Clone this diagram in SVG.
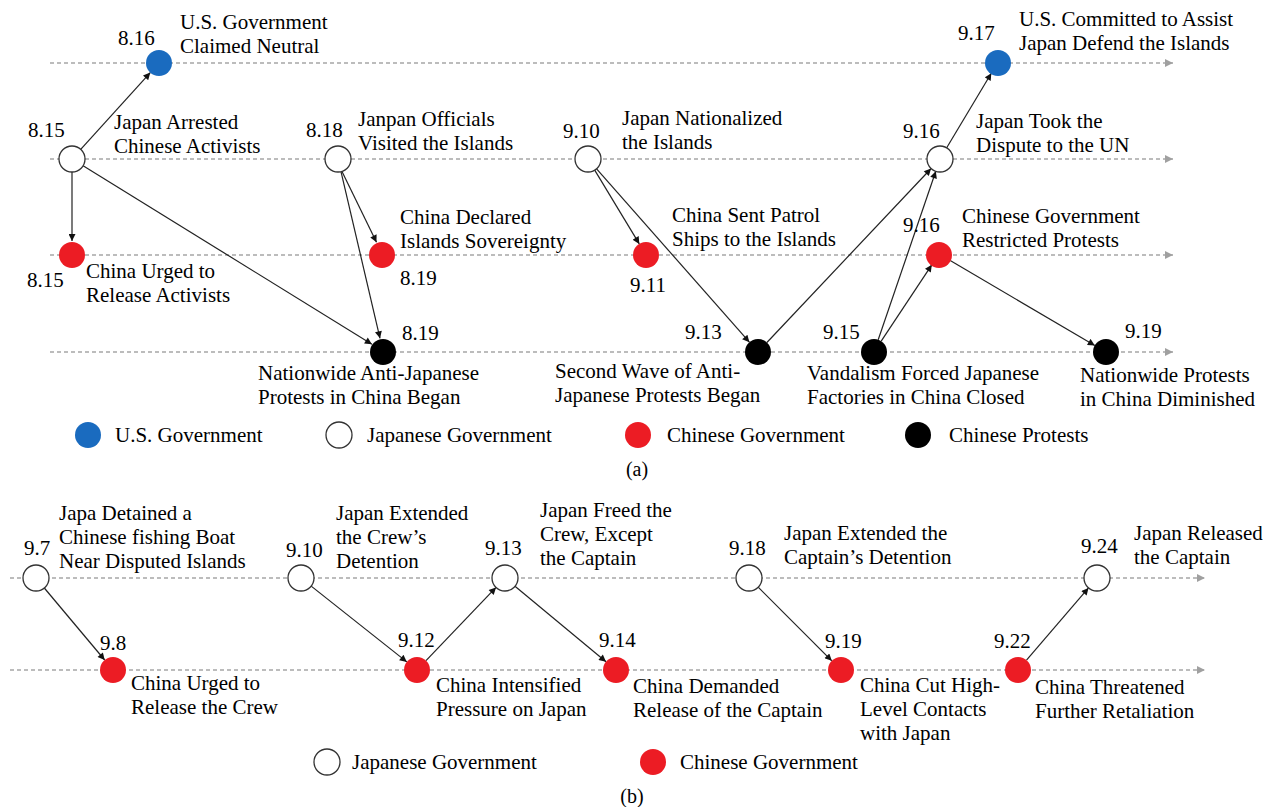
<svg xmlns="http://www.w3.org/2000/svg" width="1276" height="807" viewBox="0 0 1276 807">
<style>
text{font-family:"Liberation Serif","Times New Roman",serif;font-size:21px;fill:#000}
.cap{font-size:20px}
.tl{stroke:#a6a6a6;stroke-width:1.3;stroke-dasharray:4 3;fill:none}
.cn{stroke:#222;stroke-width:1.2;fill:none}
.us{fill:#1a6bbf}
.jp{fill:#fff;stroke:#333;stroke-width:1.3}
.cg{fill:#ec1c24}
.cp{fill:#000}
</style>
<defs>
<marker id="ah" viewBox="0 0 10 10" refX="10" refY="5" markerWidth="9" markerHeight="7" markerUnits="userSpaceOnUse" orient="auto"><path d="M0,0 L10,5 L0,10 z" fill="#111"/></marker>
<marker id="ag" viewBox="0 0 10 10" refX="10" refY="5" markerWidth="9" markerHeight="8" markerUnits="userSpaceOnUse" orient="auto"><path d="M0,0 L10,5 L0,10 z" fill="#a0a0a0"/></marker>
</defs>

<g id="timelines">
<line class="tl" x1="50" y1="63" x2="1173" y2="63" marker-end="url(#ag)"/>
<line class="tl" x1="50" y1="159" x2="1173" y2="159" marker-end="url(#ag)"/>
<line class="tl" x1="50" y1="255" x2="1173" y2="255" marker-end="url(#ag)"/>
<line class="tl" x1="50" y1="352" x2="1173" y2="352" marker-end="url(#ag)"/>
<line class="tl" x1="10" y1="578" x2="1205" y2="578" marker-end="url(#ag)"/>
<line class="tl" x1="10" y1="670" x2="1205" y2="670" marker-end="url(#ag)"/>
</g>

<g id="connectors">
<line class="cn" x1="80.7" y1="149.4" x2="150.3" y2="72.6" marker-end="url(#ah)"/>
<line class="cn" x1="72" y1="172" x2="72" y2="241" marker-end="url(#ah)"/>
<line class="cn" x1="83.1" y1="165.8" x2="371.9" y2="344.2" marker-end="url(#ah)"/>
<line class="cn" x1="342" y1="171.5" x2="376.5" y2="242.2" marker-end="url(#ah)"/>
<line class="cn" x1="341" y1="171.7" x2="380" y2="338.3" marker-end="url(#ah)"/>
<line class="cn" x1="594.7" y1="170.1" x2="639.3" y2="243.9" marker-end="url(#ah)"/>
<line class="cn" x1="596.6" y1="168.8" x2="749.4" y2="342.2" marker-end="url(#ah)"/>
<line class="cn" x1="766.9" y1="342.5" x2="931.1" y2="168.5" marker-end="url(#ah)"/>
<line class="cn" x1="878.2" y1="339.7" x2="935.8" y2="171.3" marker-end="url(#ah)"/>
<line class="cn" x1="881.2" y1="341.2" x2="931.8" y2="264.8" marker-end="url(#ah)"/>
<line class="cn" x1="946.7" y1="147.8" x2="991.3" y2="73.2" marker-end="url(#ah)"/>
<line class="cn" x1="950.2" y1="260.6" x2="1094.8" y2="345.4" marker-end="url(#ah)"/>
<line class="cn" x1="44.3" y1="588" x2="104.7" y2="660" marker-end="url(#ah)"/>
<line class="cn" x1="311.2" y1="586.1" x2="406.8" y2="661.9" marker-end="url(#ah)"/>
<line class="cn" x1="426" y1="660.6" x2="496" y2="587.4" marker-end="url(#ah)"/>
<line class="cn" x1="515" y1="586.3" x2="606" y2="661.7" marker-end="url(#ah)"/>
<line class="cn" x1="758.2" y1="587.2" x2="831.8" y2="660.8" marker-end="url(#ah)"/>
<line class="cn" x1="1026.5" y1="660.1" x2="1088.5" y2="587.9" marker-end="url(#ah)"/>
</g>

<g id="a-0815-japan"><circle class="jp" cx="72" cy="159" r="13"/><text x="28" y="137">8.15</text><text x="114" y="129">Japan Arrested</text><text x="114" y="153">Chinese Activists</text></g>
<g id="a-0816-us"><circle class="us" cx="159" cy="63" r="13"/><text x="118" y="45">8.16</text><text x="180" y="29">U.S. Government</text><text x="180" y="53">Claimed Neutral</text></g>
<g id="a-0815-china"><circle class="cg" cx="72" cy="255" r="13"/><text x="27" y="287">8.15</text><text x="86" y="278">China Urged to</text><text x="86" y="302">Release Activists</text></g>
<g id="a-0818-japan"><circle class="jp" cx="338" cy="159" r="13"/><text x="306" y="137">8.18</text><text x="358" y="126">Janpan Officials</text><text x="358" y="150">Visited the Islands</text></g>
<g id="a-0819-china"><circle class="cg" cx="382" cy="255" r="13"/><text x="400" y="285">8.19</text><text x="400" y="224">China Declared</text><text x="400" y="248">Islands Sovereignty</text></g>
<g id="a-0819-protest"><circle class="cp" cx="383" cy="352" r="13"/><text x="402" y="340">8.19</text><text x="258" y="380">Nationwide Anti-Japanese</text><text x="258" y="404">Protests in China Began</text></g>
<g id="a-0910-japan"><circle class="jp" cx="588" cy="159" r="13"/><text x="563" y="138">9.10</text><text x="622" y="125">Japan Nationalized</text><text x="622" y="149">the Islands</text></g>
<g id="a-0911-china"><circle class="cg" cx="646" cy="255" r="13"/><text x="630" y="292">9.11</text><text x="672" y="222">China Sent Patrol</text><text x="672" y="246">Ships to the Islands</text></g>
<g id="a-0913-protest"><circle class="cp" cx="758" cy="352" r="13"/><text x="685" y="339">9.13</text><text x="555" y="378">Second Wave of Anti-</text><text x="555" y="402">Japanese Protests Began</text></g>
<g id="a-0916-japan"><circle class="jp" cx="940" cy="159" r="13"/><text x="903" y="138">9.16</text><text x="976" y="128">Japan Took the</text><text x="976" y="152">Dispute to the UN</text></g>
<g id="a-0917-us"><circle class="us" cx="998" cy="63" r="13"/><text x="958" y="40">9.17</text><text x="1019" y="26">U.S. Committed to Assist</text><text x="1019" y="50">Japan Defend the Islands</text></g>
<g id="a-0915-protest"><circle class="cp" cx="874" cy="352" r="13"/><text x="823" y="339">9.15</text><text x="807" y="380">Vandalism Forced Japanese</text><text x="807" y="404">Factories in China Closed</text></g>
<g id="a-0916-china"><circle class="cg" cx="939" cy="255" r="13"/><text x="903" y="232">9.16</text><text x="962" y="223">Chinese Government</text><text x="962" y="247">Restricted Protests</text></g>
<g id="a-0919-protest"><circle class="cp" cx="1106" cy="352" r="13"/><text x="1125" y="338">9.19</text><text x="1080" y="382">Nationwide Protests</text><text x="1080" y="406">in China Diminished</text></g>

<g id="legend-a">
<circle class="us" cx="88" cy="435" r="13"/><text x="115" y="442">U.S. Government</text>
<circle class="jp" cx="339" cy="435" r="13"/><text x="367" y="442">Japanese Government</text>
<circle class="cg" cx="638" cy="435" r="13"/><text x="667" y="442">Chinese Government</text>
<circle class="cp" cx="918" cy="435" r="13"/><text x="949" y="442">Chinese Protests</text>
<text class="cap" x="637" y="476" text-anchor="middle">(a)</text>
</g>

<g id="b-0907-japan"><circle class="jp" cx="36" cy="578" r="13"/><text x="24" y="555">9.7</text><text x="59" y="520">Japa Detained a</text><text x="59" y="544">Chinese fishing Boat</text><text x="59" y="568">Near Disputed Islands</text></g>
<g id="b-0908-china"><circle class="cg" cx="113" cy="670" r="13"/><text x="100" y="650">9.8</text><text x="131" y="690">China Urged to</text><text x="131" y="714">Release the Crew</text></g>
<g id="b-0910-japan"><circle class="jp" cx="301" cy="578" r="13"/><text x="286" y="557">9.10</text><text x="336" y="520">Japan Extended</text><text x="336" y="544">the Crew’s</text><text x="336" y="568">Detention</text></g>
<g id="b-0912-china"><circle class="cg" cx="417" cy="670" r="13"/><text x="398" y="647">9.12</text><text x="436" y="692">China Intensified</text><text x="436" y="716">Pressure on Japan</text></g>
<g id="b-0913-japan"><circle class="jp" cx="505" cy="578" r="13"/><text x="485" y="555">9.13</text><text x="540" y="517">Japan Freed the</text><text x="540" y="541">Crew, Except</text><text x="540" y="565">the Captain</text></g>
<g id="b-0914-china"><circle class="cg" cx="616" cy="670" r="13"/><text x="599" y="647">9.14</text><text x="633" y="693">China Demanded</text><text x="633" y="717">Release of the Captain</text></g>
<g id="b-0918-japan"><circle class="jp" cx="749" cy="578" r="13"/><text x="729" y="555">9.18</text><text x="784" y="540">Japan Extended the</text><text x="784" y="564">Captain’s Detention</text></g>
<g id="b-0919-china"><circle class="cg" cx="841" cy="670" r="13"/><text x="825" y="648">9.19</text><text x="860" y="692">China Cut High-</text><text x="860" y="716">Level Contacts</text><text x="860" y="740">with Japan</text></g>
<g id="b-0922-china"><circle class="cg" cx="1018" cy="670" r="13"/><text x="994" y="648">9.22</text><text x="1035" y="694">China Threatened</text><text x="1035" y="718">Further Retaliation</text></g>
<g id="b-0924-japan"><circle class="jp" cx="1097" cy="578" r="13"/><text x="1081" y="553">9.24</text><text x="1134" y="540">Japan Released</text><text x="1134" y="564">the Captain</text></g>

<g id="legend-b">
<circle class="jp" cx="327" cy="762" r="13"/><text x="352" y="769">Japanese Government</text>
<circle class="cg" cx="653" cy="762" r="13"/><text x="680" y="769">Chinese Government</text>
<text class="cap" x="632" y="803" text-anchor="middle">(b)</text>
</g>
</svg>
